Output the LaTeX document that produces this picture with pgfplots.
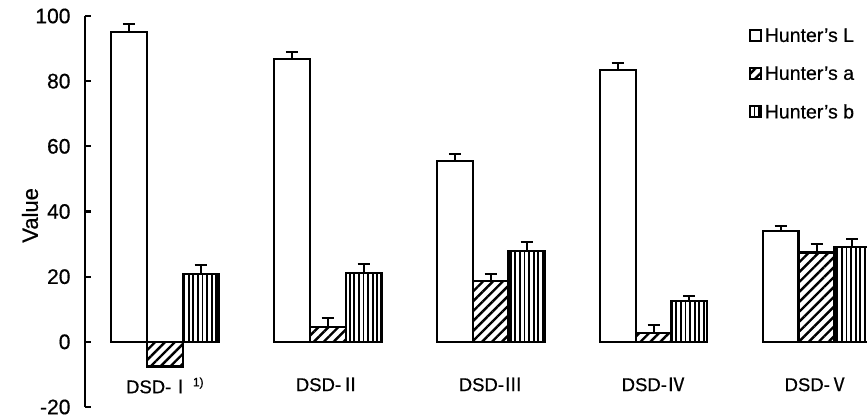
\documentclass[border=0pt]{standalone}
\usepackage{pgfplots}
\pgfplotsset{compat=1.18}
\usepackage{pgfplotstable}
\usepackage{fontspec}
\setmainfont[FakeBold=0.6]{Liberation Sans}
\newfontfamily\cjk[FakeBold=0.6]{Noto Sans CJK SC}
\usetikzlibrary{patterns.meta}

\pgfplotstableread{
x L Le a ae b be
0 95.0 2.5 -7.6 0 20.9 2.7
1 86.8 2.0 4.6 2.8 21.2 2.8
2 55.5 2.1 18.7 2.1 27.9 2.8
3 83.4 2.2 2.8 2.4 12.6 1.6
4 34.0 1.6 27.4 2.6 29.2 2.4
}\data

\pgfplotsset{
  mylegend/.style={legend image code/.code={\draw[##1, line width=2.2pt] (0pt,-5pt) rectangle (11pt,6pt);}},
  myerr/.style={error bars/.cd, y dir=plus, y explicit,
    error bar style={line width=2pt, black},
    error mark=-,
    error mark options={rotate=90, line width=2pt, black, mark size=6pt}},
}

\begin{document}
\begin{tikzpicture}
\begin{axis}[
  scale only axis, width=782pt, height=391pt,
  xmin=-0.49, xmax=4.31, ymin=-20, ymax=100,
  ybar=0pt, bar width=0.22,
  axis lines*=left,
  axis line style={-},
  x axis line style={draw=none},
  y axis line style={line width=2.5pt, black},
  xtick=data,
  xtick style={draw=none},
  xticklabels={{DSD-{\cjk Ⅰ}\,{\fontsize{12}{12}\selectfont\raisebox{7pt}{1)}}},{DSD-{\cjk Ⅱ}},{DSD-{\cjk Ⅲ}},{DSD-{\cjk Ⅳ}},{DSD-{\cjk Ⅴ}}},
  xticklabel style={yshift=33pt, font=\fontsize{18.5}{20}\selectfont},
  ytick={-20,0,20,40,60,80,100},
  tick align=inside, major tick length=6pt,
  ytick style={line width=2.2pt, black},
  yticklabel style={font=\fontsize{21}{24}\selectfont, xshift=-11pt},
  /pgf/number format/assume math mode=true,
  ylabel={Value},
  ylabel style={at={(axis description cs:0,0.49)}, anchor=center, yshift=55pt, font=\fontsize{22}{24}\selectfont},
  legend style={draw=none, fill=none, at={(axis description cs:0.849,0.975)}, anchor=north west,
    font=\fontsize{19.5}{21}\selectfont, row sep=18pt, inner sep=0pt,
    nodes={inner sep=2.5pt}},
  legend cell align=left,
]
\coordinate (ll) at (rel axis cs:0,0);
\coordinate (ur) at (rel axis cs:1,1);
\addplot[draw=black, fill=white, line width=2.3pt, mylegend, myerr] table[x=x, y=L, y error=Le] {\data};
\addplot[draw=black, line width=2.3pt, pattern={Lines[angle=45,distance=7pt,line width=2.4pt]}, pattern color=black, mylegend, myerr] table[x=x, y=a, y error=ae] {\data};
\addplot[draw=black, line width=2.3pt, pattern={Lines[angle=90,distance=4.6pt,line width=1.8pt]}, pattern color=black, mylegend, myerr] table[x=x, y=b, y error=be] {\data};
\legend{Hunter’s L, Hunter’s a, Hunter’s b}
\end{axis}
\pgfresetboundingbox
\path ([shift={(-85pt,-11pt)}]ll) rectangle ([shift={(0pt,16pt)}]ur);
\end{tikzpicture}
\end{document}
